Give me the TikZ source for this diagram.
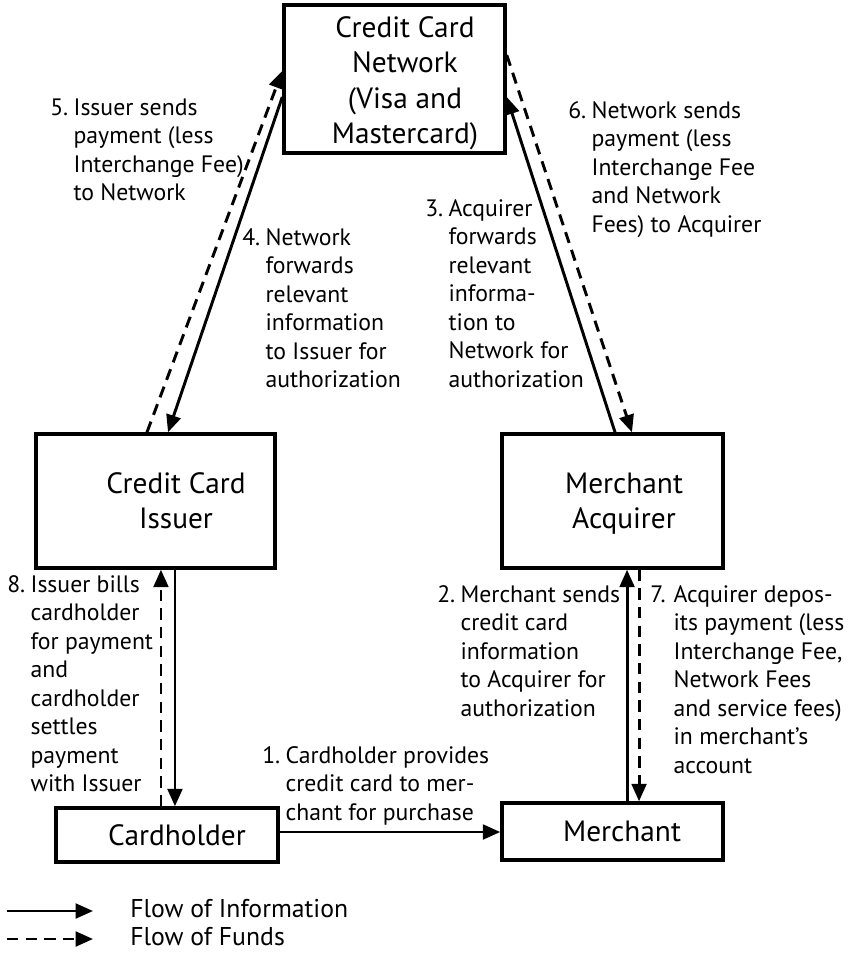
\documentclass[tikz,border=0pt]{standalone}
\usepackage{fontspec}
\setmainfont{PT Sans}
\usetikzlibrary{arrows.meta}
\newcommand\lblfont{\fontsize{17.8}{21.4}\selectfont}
\newcommand\boxfont{\fontsize{22}{26.5}\selectfont}
\newcommand\legfont{\fontsize{19.3}{23}\selectfont}
\newcommand\numlbl[2]{\begin{tabular}[t]{@{}p{17.5pt}@{}l@{}}#1&#2\end{tabular}}
\newcommand\ctext[1]{\begin{tabular}[t]{@{}c@{}}#1\end{tabular}}
\begin{document}
\begin{tikzpicture}[x=0.75pt,y=-0.75pt,
  box/.style={draw, line width=2.6pt, inner sep=0pt},
  btxt/.style={anchor=base, inner sep=0pt, font=\boxfont},
  lbl/.style={anchor=base west, inner sep=0pt, font=\lblfont},
  leg/.style={anchor=base west, inner sep=0pt, font=\legfont},
  info/.style={line width=2.2pt, -{Triangle[length=13pt,width=11pt]}},
  fund/.style={info, dash pattern=on 8.5pt off 5.5pt}]
\useasboundingbox (0,0) rectangle (847,953);
% boxes
\node[box, minimum width=165.75pt, minimum height=111pt] (net) at (394.5,79) {};
\node[box, minimum width=179.25pt, minimum height=100.5pt] (iss) at (155.5,501) {};
\node[box, minimum width=165.75pt, minimum height=100.5pt] (acq) at (612.5,501) {};
\node[box, minimum width=166.5pt, minimum height=40.5pt] (ch) at (167,835) {};
\node[box, minimum width=165.75pt, minimum height=42.75pt] (mer) at (612.5,831.5) {};
% box texts
\node[btxt] (nett) at (405,37.5) {\ctext{Credit Card\\Network\\(Visa and\\Mastercard)}};
\node[btxt] (isst) at (176,493) {\ctext{Credit Card\\Issuer}};
\node[btxt] (acqt) at (624,493) {\ctext{Merchant\\Acquirer}};
\node[btxt] (cht) at (177,845) {Cardholder};
\node[btxt] (mert) at (622,841) {Merchant};
% connectors
\draw[fund] ([xshift=-6.4pt]iss.north) -- ([yshift=6pt]net.west);
\draw[info] ([yshift=-13.5pt]net.west) -- ([xshift=9.4pt]iss.north);
\draw[info] ([xshift=1.9pt]acq.north) -- ([yshift=-13.5pt]net.east);
\draw[fund] ([yshift=18pt]net.east) -- ([xshift=14.6pt]acq.north);
\draw[info] ([xshift=14.6pt]iss.south) -- ([xshift=14.6pt]iss.south |- ch.north);
\draw[fund] ([xshift=4.1pt]iss.south |- ch.north) -- ([xshift=4.1pt]iss.south);
\draw[info] ([xshift=10.9pt]acq.south |- mer.north) -- ([xshift=10.9pt]acq.south);
\draw[fund] ([xshift=19.9pt]acq.south) -- ([xshift=19.9pt]acq.south |- mer.north);
\draw[info] ([yshift=2.25pt]ch.east) -- ([yshift=2.25pt]ch.east -| mer.west);
% labels
\node[lbl] (l5) at (50,115) {\numlbl{5.}{Issuer sends\\&payment (less\\&Interchange Fee)\\&to Network}};
\node[lbl] (l6) at (568,118) {\numlbl{6.}{Network sends\\&payment (less\\&Interchange Fee\\&and Network\\&Fees) to Acquirer}};
\node[lbl] (l4) at (242,245) {\numlbl{4.}{Network\\&forwards\\&relevant\\&information\\&to Issuer for\\&authorization}};
\node[lbl] (l3) at (425,216) {\numlbl{3.}{Acquirer\\&forwards\\&relevant\\&informa-\\&tion to\\&Network for\\&authorization}};
\node[lbl] (l8) at (7,592) {\numlbl{8.}{Issuer bills\\&cardholder\\&for payment\\&and\\&cardholder\\&settles\\&payment\\&with Issuer}};
\node[lbl] (l1) at (262,763) {\numlbl{1.}{Cardholder provides\\&credit card to mer-\\&chant for purchase}};
\node[lbl] (l2) at (437,602) {\numlbl{2.}{Merchant sends\\&credit card\\&information\\&to Acquirer for\\&authorization}};
\node[lbl] (l7) at (650,602) {\numlbl{7.}{Acquirer depos-\\&its payment (less\\&Interchange Fee,\\&Network Fees\\&and service fees)\\&in merchant’s\\&account}};
% legend
\coordinate (lgia) at (7,911);
\coordinate (lgib) at (93,911);
\coordinate (lgfa) at (7,939);
\coordinate (lgfb) at (93,939);
\draw[info] (lgia) -- (lgib);
\draw[fund] (lgfa) -- (lgfb);
\node[leg] (lgit) at (130,917) {Flow of Information};
\node[leg] (lgft) at (130,945) {Flow of Funds};
\end{tikzpicture}
\end{document}
